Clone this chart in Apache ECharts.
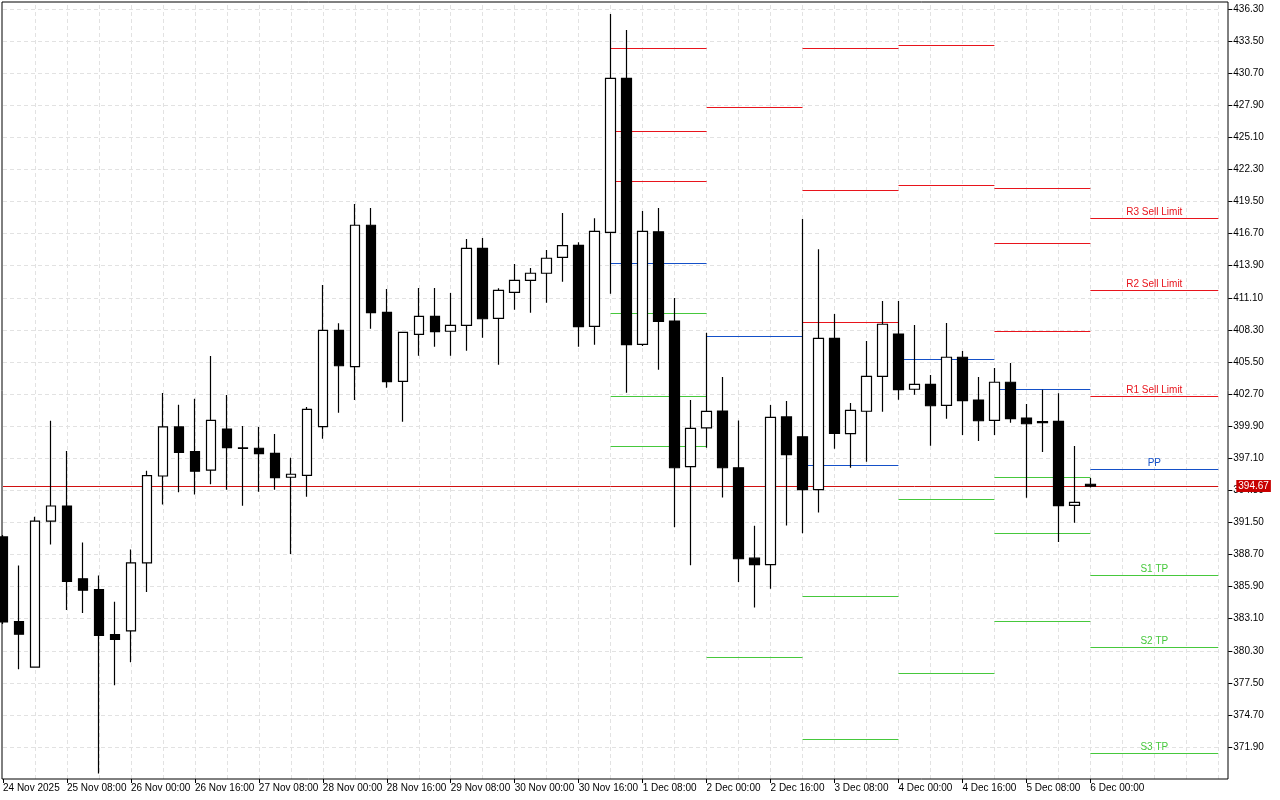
<!DOCTYPE html>
<html><head><meta charset="utf-8">
<script src="https://cdn.jsdelivr.net/npm/echarts@6/dist/echarts.min.js"></script>
<style>html,body{margin:0;padding:0;background:#fff}#c{width:1280px;height:800px}</style>
</head><body><div id="c"></div>
<script>
// Time labels every 4 bars (H4)
const timeLabels = ['24 Nov 2025','25 Nov 08:00','26 Nov 00:00','26 Nov 16:00','27 Nov 08:00','28 Nov 00:00','28 Nov 16:00','29 Nov 08:00','30 Nov 00:00','30 Nov 16:00','1 Dec 08:00','2 Dec 00:00','2 Dec 16:00','3 Dec 08:00','4 Dec 00:00','4 Dec 16:00','5 Dec 08:00','6 Dec 00:00'];
const slotCount = 77;
// OHLC per bar
const opens  = [390.23,382.85,378.88,391.62,392.93,386.58,385.64,381.71,382.03,387.97,395.55,399.83,397.67,396.06,399.65,398.00,397.97,397.53,395.44,395.61,399.85,408.26,405.09,417.43,409.83,403.81,407.91,409.48,408.18,408.70,415.42,409.31,411.58,412.62,413.24,414.63,415.68,408.61,416.81,430.25,407.04,416.86,409.07,396.36,399.75,401.22,396.27,388.38,387.81,400.70,398.97,394.36,407.56,399.24,401.20,404.25,407.94,403.12,403.55,401.72,405.91,402.18,400.41,403.73,400.61,400.29,400.32,392.99,394.83];
const highs  = [390.40,387.74,392.00,400.38,397.73,389.74,386.87,384.58,389.13,396.00,402.80,401.77,402.29,406.02,402.62,399.91,399.83,399.22,397.15,401.57,412.22,408.87,419.28,418.93,411.87,408.12,411.95,411.95,411.52,416.23,416.32,411.93,414.05,413.70,415.27,418.50,415.94,418.04,435.86,434.47,418.67,418.93,411.08,402.18,408.05,404.19,400.40,391.20,401.74,402.10,417.98,415.33,409.69,401.92,407.33,410.82,410.82,408.73,404.36,408.90,406.46,404.19,404.97,405.41,401.83,403.08,402.77,398.17,395.37];
const lows   = [382.63,378.68,378.85,389.58,383.86,383.60,369.59,377.29,379.29,385.42,393.06,394.13,393.93,394.83,394.35,392.96,394.18,394.35,388.74,393.74,398.80,401.07,402.18,408.40,403.26,400.29,406.05,406.83,406.05,406.48,407.62,405.26,410.06,409.80,410.67,412.50,406.83,407.01,411.46,402.82,406.89,404.83,391.07,387.77,398.01,393.67,386.30,384.08,385.72,391.24,390.55,392.37,397.92,396.27,396.80,401.16,402.21,402.64,398.19,400.55,399.12,398.60,399.12,400.20,393.66,397.64,389.79,391.48,394.55];
const closes = [382.81,381.74,391.62,392.93,386.35,385.58,381.65,381.29,387.97,395.58,399.83,397.61,395.97,400.41,398.02,397.95,397.50,395.40,395.70,401.37,408.26,405.17,417.43,409.80,403.78,408.09,409.48,408.14,408.70,415.42,409.27,411.75,412.62,413.24,414.55,415.65,408.58,416.90,430.25,407.01,416.90,409.04,396.27,399.70,401.18,396.27,388.33,387.81,400.66,397.41,394.36,407.56,399.27,401.28,404.25,408.79,403.08,403.55,401.68,405.91,402.12,400.37,403.73,400.55,400.11,400.20,392.96,393.25,394.67];
const currentPrice = 394.67;
const yTicks = [371.90,374.70,377.50,380.30,383.10,385.90,388.70,391.50,394.30,397.10,399.90,402.70,405.50,408.30,411.10,413.90,416.70,419.50,422.30,425.10,427.90,430.70,433.50,436.30];
// Daily pivot segments
const dayStart = [38,44,50,56,62,68];
const dayEnd   = [44,50,56,62,68,76];
const lvR3 = [432.90,null,432.90,null,420.68,418.06];
const lvR2 = [425.65,null,420.51,433.16,415.88,411.78];
const lvR1 = [421.29,427.75,408.99,420.94,408.20,402.53];
const lvPP = [414.14,407.77,396.51,405.76,403.14,396.16];
const lvS1 = [409.77,379.76,385.08,393.54,395.46,386.91];
const lvS2 = [402.53,null,372.60,378.36,390.58,380.63];
const lvS3 = [398.17,null,null,null,382.90,371.38];
const lastLabels = {R3:'R3 Sell Limit',R2:'R2 Sell Limit',R1:'R1 Sell Limit',PP:'PP',S1:'S1 TP',S2:'S2 TP',S3:'S3 TP'};

const RED='#e8141c', BLUE='#1450c8', GREEN='#46c83c';
const cats = [];
for (let i=0;i<slotCount;i++) cats.push(i%4===0 && i/4<timeLabels.length ? timeLabels[i/4] : ' '+i);
const candles = opens.map((o,i)=>[o,closes[i],lows[i],highs[i]]);

const gridLines = [];
yTicks.forEach(v=>gridLines.push({yAxis:v}));
for (let i=2;i<slotCount;i+=2) gridLines.push({xAxis:i});

const segs = [];
const levels = [['R3',lvR3,RED],['R2',lvR2,RED],['R1',lvR1,RED],['PP',lvPP,BLUE],['S1',lvS1,GREEN],['S2',lvS2,GREEN],['S3',lvS3,GREEN]];
levels.forEach(([name,arr,col])=>{
  arr.forEach((v,d)=>{
    if (v==null) return;
    const last = d===arr.length-1;
    segs.push([{coord:[dayStart[d],v],lineStyle:{color:col},
      label:{show:last,formatter:lastLabels[name],position:'middle',color:col,fontSize:10,fontFamily:'Liberation Sans',distance:1}},
      {coord:[dayEnd[d],v]}]);
  });
});

const chart = echarts.init(document.getElementById('c'),null,{renderer:'canvas'});
chart.setOption({
  animation:false,
  backgroundColor:'#fff',
  grid:{left:2.3,top:2,width:1216,height:777},
  xAxis:{type:'category',data:cats,boundaryGap:false,
    axisLine:{show:false},
    axisTick:{show:true,inside:false,length:4,interval:(i)=>i%4===0&&i<=68,lineStyle:{color:'#000'}},
    axisLabel:{interval:(i)=>i%4===0&&i<=68,align:'left',margin:4,color:'#000',fontSize:10,fontFamily:'Liberation Sans',
      formatter:(v)=>v.charAt(0)===' '?'':v},
    splitLine:{show:false}},
  yAxis:{type:'value',position:'right',offset:10,min:369.11,max:436.91,scale:true,
    axisLine:{show:false},
    axisTick:{show:true,length:4,customValues:yTicks,lineStyle:{color:'#000'}},
    axisLabel:{customValues:yTicks,formatter:(v)=>v.toFixed(2),color:'#000',fontSize:10,fontFamily:'Liberation Sans',margin:5},
    splitLine:{show:false}},
  graphic:[{type:'rect',shape:{x:2,y:2,width:1226,height:777},style:{fill:'none',stroke:'#000',lineWidth:1},silent:true,z:100}],
  series:[
    {type:'line',data:[],z:1,silent:true,
      markLine:{silent:true,symbol:'none',animation:false,label:{show:false},
        lineStyle:{color:'#e2e2e2',type:[4,3],width:1},data:gridLines}},
    {type:'line',data:[],z:3,silent:true,
      markLine:{silent:true,symbol:'none',animation:false,lineStyle:{type:'solid',width:1},data:segs}},
    {type:'candlestick',data:candles,barWidth:10,z:5,
      itemStyle:{color:'#ffffff',color0:'#000000',borderColor:'#000000',borderColor0:'#000000',borderWidth:1.2}},
    {type:'line',data:[],z:6,silent:true,
      markLine:{silent:true,symbol:'none',animation:false,
        lineStyle:{color:'#d01010',type:'solid',width:1},
        label:{show:true,position:'end',distance:18,formatter:currentPrice.toFixed(2),color:'#fff',backgroundColor:'#c80000',padding:[1,2,1,2],fontSize:10,fontFamily:'Liberation Sans'},
        data:[{yAxis:currentPrice}]}}
  ]
});
</script></body></html>
